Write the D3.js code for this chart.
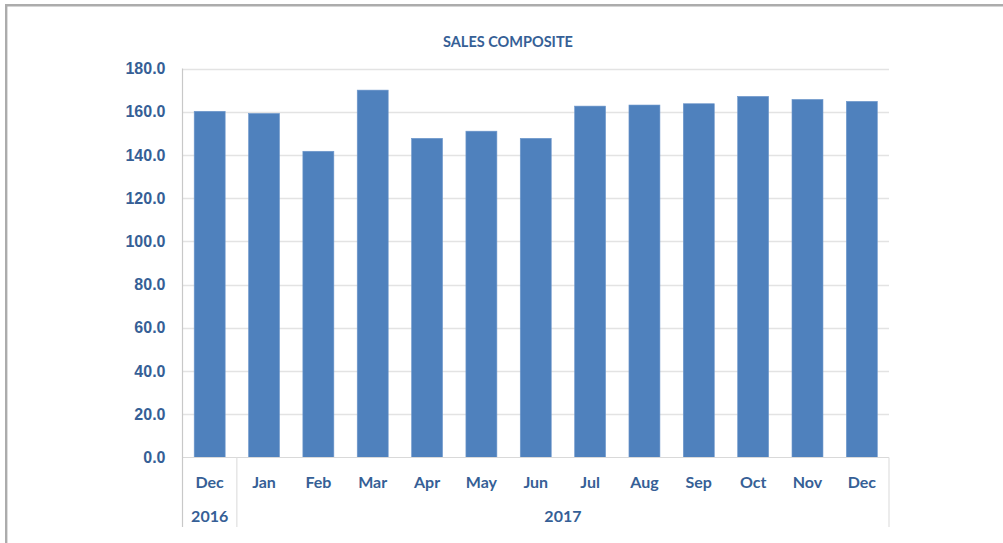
<!DOCTYPE html>
<html>
<head>
<meta charset="utf-8">
<script src="https://cdn.jsdelivr.net/npm/d3@7"></script>
<style>
  body { margin: 0; background: #fff; }
  svg { display: block; font-family: Lato, "Open Sans", sans-serif; font-weight: bold; }
  .tick text, .lbl { fill: #365f96; }
</style>
</head>
<body>
<script>
(function () {
    //chart data
    var months = ["Dec", "Jan", "Feb", "Mar", "Apr", "May", "Jun", "Jul", "Aug", "Sep", "Oct", "Nov", "Dec"];
    var years = ["2016", "2017"];
    var yearSpan = [1, 12]; //number of months under each year
    var sales = [160.2, 159.2, 141.7, 170.0, 147.7, 151.0, 147.7, 162.6, 163.1, 163.7, 167.1, 165.7, 164.8];
    var yTicks = [0, 20, 40, 60, 80, 100, 120, 140, 160, 180];

    var width = 1003, height = 543;
    var plot = { left: 182.5, right: 889, top: 68.5, bottom: 457.5 };

    var svg = d3.select("body").append("svg")
        .attr("width", width)
        .attr("height", height);

    //outer frame (only top and left edges are visible)
    svg.append("path")
        .attr("d", "M6.2," + height + "V5.2H" + width)
        .attr("fill", "none")
        .attr("stroke", "#acacac")
        .attr("stroke-width", 2.4);

    //title
    svg.append("text")
        .attr("class", "lbl")
        .attr("x", 508)
        .attr("y", 47)
        .attr("text-anchor", "middle")
        .style("font-size", "14.5px")
        .text("SALES COMPOSITE");

    var x = d3.scaleBand()
        .domain(d3.range(months.length))
        .range([plot.left, plot.right])
        .paddingInner(0.43)
        .paddingOuter(0.215);

    var y = d3.scaleLinear()
        .domain([0, 180])
        .range([plot.bottom, plot.top]);

    //gridlines
    svg.selectAll(".grid")
        .data(yTicks.slice(1))
        .enter()
        .append("line")
        .attr("class", "grid")
        .attr("x1", plot.left)
        .attr("x2", plot.right)
        .attr("y1", function (d) { return Math.round(y(d)) + 0.5; })
        .attr("y2", function (d) { return Math.round(y(d)) + 0.5; })
        .attr("stroke", "#e3e3e3")
        .attr("stroke-width", 1.5);

    //y axis labels
    var yAxis = svg.append("g")
        .attr("transform", "translate(" + (plot.left) + ",0)")
        .call(d3.axisLeft(y).tickValues(yTicks).tickSize(0).tickPadding(17)
            .tickFormat(d3.format(".1f")));
    yAxis.select(".domain").remove();
    yAxis.selectAll("text").style("font-size", "16px");

    //bars
    svg.selectAll(".bar")
        .data(sales)
        .enter()
        .append("rect")
        .attr("class", "bar")
        .attr("x", function (d, i) { return x(i); })
        .attr("width", x.bandwidth())
        .attr("y", function (d) { return y(d); })
        .attr("height", function (d) { return y(0) - y(d); })
        .attr("fill", "#4f81bd")
        .attr("stroke", "#6f98cc")
        .attr("stroke-width", 0.6);

    //category axis lines
    var axisBottom = 527;
    var step = x.step();
    var bounds = [0];
    yearSpan.forEach(function (n, i) { bounds.push(bounds[i] + n); });

    svg.append("line")
        .attr("x1", plot.left).attr("x2", plot.right)
        .attr("y1", plot.bottom).attr("y2", plot.bottom)
        .attr("stroke", "#d9d9d9").attr("stroke-width", 1.2);
    svg.append("line")
        .attr("x1", plot.left).attr("x2", plot.left)
        .attr("y1", plot.top).attr("y2", axisBottom)
        .attr("stroke", "#c8c8c8").attr("stroke-width", 1.2);
    svg.selectAll(".sep")
        .data(bounds.slice(1))
        .enter()
        .append("line")
        .attr("class", "sep")
        .attr("x1", function (d) { return plot.left + d * step; })
        .attr("x2", function (d) { return plot.left + d * step; })
        .attr("y1", plot.bottom)
        .attr("y2", axisBottom)
        .attr("stroke", "#e0e0e0")
        .attr("stroke-width", 1.2);

    //month labels
    svg.selectAll(".month")
        .data(months)
        .enter()
        .append("text")
        .attr("class", "lbl month")
        .attr("x", function (d, i) { return x(i) + x.bandwidth() / 2; })
        .attr("y", 487.5)
        .attr("text-anchor", "middle")
        .style("font-size", "16px")
        .text(function (d) { return d; });

    //year labels
    svg.selectAll(".year")
        .data(years)
        .enter()
        .append("text")
        .attr("class", "lbl year")
        .attr("x", function (d, i) { return plot.left + (bounds[i] + bounds[i + 1]) / 2 * step; })
        .attr("y", 521.5)
        .attr("text-anchor", "middle")
        .style("font-size", "16px")
        .text(function (d) { return d; });
})();
</script>
</body>
</html>
